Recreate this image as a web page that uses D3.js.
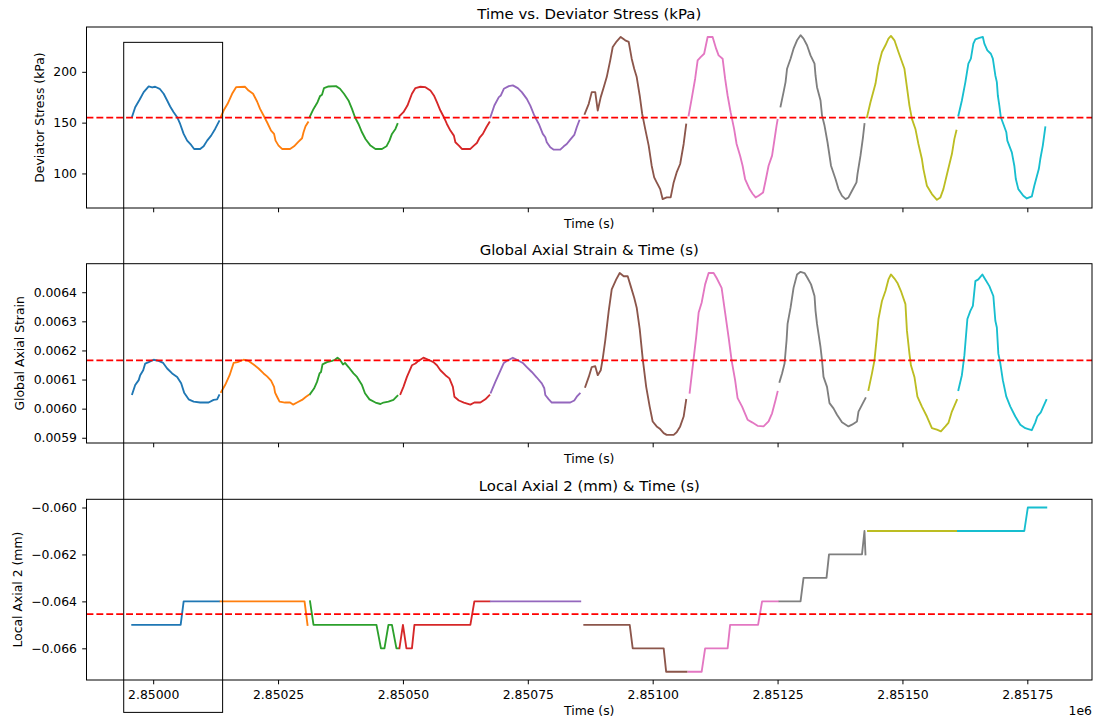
<!DOCTYPE html>
<html>
<head>
<meta charset="utf-8">
<script src="https://cdn.jsdelivr.net/npm/d3@7"></script>
<style>
  html, body { margin: 0; padding: 0; background: #fff; }
  svg { display: block; font-family: "DejaVu Sans", sans-serif; }
</style>
</head>
<body>
<svg id="chart" width="1094" height="722"></svg>
<script>
// Time values are seconds relative to T0.
const T0 = 2850000;

const cycleColors = ["#1f77b4", "#ff7f0e", "#2ca02c", "#d62728", "#9467bd",
                     "#8c564b", "#e377c2", "#7f7f7f", "#bcbd22", "#17becf"];

// Deviator stress (kPa), one array per loading cycle: [time, stress]
const stressCycles = [
  [[-42,156.3],[-36,165.2],[-27,172.8],[-19,180.0],[-9,185.6],[-2,184.6],[4,185.3],[13,183.3],[21,178.4],[28,171.8],[34,165.9],[41,160.3],[48,155.3],[54,148.7],[61,138.9],[68,132.3],[76,128.0],[82,124.1],[94,124.1],[101,126.7],[108,132.3],[116,137.2],[124,143.8],[132,151.4]],
  [[136,156.3],[141,161.9],[149,168.5],[158,178.4],[166,184.9],[184,185.3],[191,181.6],[200,178.4],[208,170.8],[214,163.5],[221,157.0],[228,150.4],[236,142.2],[242,138.9],[245,132.3],[251,127.4],[258,124.1],[274,124.1],[282,126.7],[291,131.3],[298,134.6],[301,140.5],[305,146.4],[310,150.4]],
  [[314,156.3],[321,163.5],[329,170.1],[334,176.1],[338,177.4],[342,184.0],[351,185.6],[366,185.9],[374,183.3],[382,178.4],[391,171.8],[398,163.5],[404,155.3],[411,148.7],[418,140.5],[425,133.9],[435,127.4],[445,124.1],[458,124.1],[467,126.7],[473,132.3],[478,138.9],[485,143.8],[489,148.7]],
  [[493,156.3],[501,160.3],[509,166.8],[518,178.4],[525,184.0],[535,185.3],[545,184.9],[555,181.6],[562,176.7],[568,170.1],[575,161.9],[582,155.3],[588,148.7],[595,142.2],[602,137.2],[605,130.7],[612,127.4],[618,124.1],[635,124.1],[642,127.4],[648,130.0],[654,135.6],[660,138.9],[667,145.5],[673,150.4]],
  [[675,155.3],[683,166.8],[692,175.1],[696,176.7],[702,183.3],[712,185.9],[720,186.6],[730,183.9],[738,180.0],[748,173.4],[755,166.8],[763,157.0],[772,148.7],[780,138.9],[785,135.6],[788,130.7],[795,125.7],[802,123.4],[815,123.4],[822,126.7],[828,129.0],[835,133.3],[843,137.9],[848,145.5],[853,152.0]],
  [[864,158.6],[872,168.5],[878,180.0],[885,180.0],[890,161.9],[896,175.1],[902,184.9],[908,194.8],[915,211.3],[920,224.4],[928,230.0],[936,234.3],[945,231.0],[952,229.4],[958,212.9],[963,203.0],[968,194.8],[974,176.7],[979,158.6],[985,143.8],[992,127.4],[998,107.6],[1003,96.1],[1008,91.2],[1015,84.6],[1020,74.7],[1028,76.4],[1036,76.4],[1042,91.2],[1048,101.0],[1055,109.3],[1062,129.0],[1067,148.1]],
  [[1072,157.0],[1078,173.4],[1085,193.2],[1090,211.3],[1096,214.5],[1103,217.8],[1110,234.3],[1120,234.3],[1127,222.8],[1132,216.2],[1140,212.9],[1145,193.2],[1150,176.7],[1156,160.3],[1163,143.8],[1168,129.0],[1175,117.5],[1180,107.6],[1185,94.5],[1194,84.6],[1200,80.0],[1206,76.4],[1212,78.0],[1221,81.3],[1226,92.8],[1232,107.6],[1239,117.5],[1244,133.9],[1248,147.1],[1250,152.7]],
  [[1256,165.9],[1262,180.0],[1266,189.9],[1269,203.0],[1276,212.9],[1282,222.8],[1289,231.0],[1296,236.0],[1302,232.6],[1309,226.1],[1316,216.2],[1324,208.0],[1326,196.4],[1329,184.9],[1336,171.8],[1339,157.0],[1344,147.1],[1350,130.7],[1357,107.6],[1366,94.5],[1372,84.6],[1379,78.0],[1386,74.7],[1392,76.4],[1399,83.0],[1408,91.2],[1410,99.4],[1416,117.5],[1421,135.6],[1424,148.7]],
  [[1429,155.3],[1436,170.1],[1446,188.2],[1452,206.3],[1459,219.5],[1466,226.1],[1472,232.6],[1477,235.3],[1484,231.0],[1492,219.5],[1504,203.0],[1509,184.9],[1514,166.8],[1519,153.7],[1526,143.8],[1532,129.0],[1539,114.2],[1542,104.3],[1549,87.9],[1559,79.7],[1569,74.1],[1576,76.4],[1582,84.6],[1590,101.0],[1599,119.1],[1604,134.0],[1608,142.2]],
  [[1612,157.0],[1619,171.8],[1626,189.9],[1632,208.0],[1637,212.9],[1642,227.7],[1646,232.0],[1654,233.3],[1661,234.3],[1664,227.7],[1670,221.1],[1677,217.8],[1681,212.9],[1686,196.4],[1689,189.9],[1691,176.7],[1694,166.8],[1697,155.3],[1702,148.7],[1708,140.5],[1710,132.3],[1719,120.8],[1724,107.6],[1727,94.5],[1732,84.6],[1742,78.0],[1749,75.4],[1759,77.4],[1764,87.9],[1773,104.3],[1776,114.2],[1781,127.4],[1786,145.5]]
];

// Global axial strain, one array per cycle: [time, strain]
const strainCycles = [
  [[-42,.006050],[-36,.006081],[-29,.006098],[-26,.006115],[-20,.006132],[-16,.006155],[-9,.006160],[1,.006168],[11,.006164],[20,.006157],[28,.006138],[38,.006121],[48,.006109],[56,.006087],[62,.006055],[71,.006032],[81,.006024],[94,.006021],[111,.006021],[121,.006030],[128,.006032],[132,.006046]],
  [[136,.006057],[144,.006081],[153,.006115],[161,.006157],[169,.006160],[181,.006168],[191,.006164],[201,.006152],[211,.006138],[221,.006121],[228,.006111],[236,.006096],[242,.006075],[244,.006055],[248,.006041],[253,.006024],[264,.006021],[274,.006021],[280,.006014],[288,.006021],[298,.006030],[306,.006041],[311,.006047]],
  [[314,.006050],[322,.006069],[328,.006092],[333,.006121],[336,.006126],[339,.006152],[348,.006160],[358,.006164],[364,.006168],[369,.006175],[374,.006168],[380,.006152],[384,.006157],[391,.006143],[401,.006121],[408,.006109],[418,.006081],[424,.006053],[433,.006032],[445,.006021],[455,.006016],[461,.006021],[471,.006024],[481,.006030],[489,.006044]],
  [[495,.006050],[501,.006075],[508,.006109],[518,.006149],[525,.006155],[531,.006164],[541,.006175],[551,.006168],[561,.006160],[568,.006149],[575,.006132],[585,.006115],[593,.006104],[600,.006075],[603,.006041],[612,.006028],[622,.006021],[635,.006014],[643,.006021],[655,.006021],[665,.006032],[673,.006046]],
  [[676,.006055],[685,.006092],[694,.006126],[702,.006157],[710,.006166],[720,.006175],[728,.006168],[740,.006157],[748,.006143],[758,.006126],[768,.006107],[778,.006087],[783,.006070],[785,.006047],[792,.006032],[798,.006021],[812,.006021],[835,.006021],[843,.006028],[848,.006041],[854,.006052]],
  [[865,.006075],[872,.006109],[878,.006143],[885,.006146],[890,.006115],[896,.006132],[900,.006172],[905,.006234],[912,.006336],[918,.006410],[927,.006444],[934,.006466],[942,.006455],[950,.006455],[956,.006421],[963,.006381],[968,.006347],[974,.006274],[980,.006172],[987,.006075],[994,.006007],[1000,.005956],[1008,.005939],[1015,.005930],[1022,.005916],[1028,.005910],[1042,.005910],[1048,.005919],[1055,.005939],[1062,.005973],[1067,.006030]],
  [[1074,.006055],[1080,.006143],[1087,.006245],[1092,.006330],[1098,.006364],[1105,.006427],[1112,.006466],[1122,.006466],[1128,.006449],[1138,.006415],[1145,.006330],[1152,.006245],[1158,.006166],[1165,.006098],[1170,.006036],[1179,.006007],[1190,.005962],[1199,.005953],[1210,.005941],[1222,.005939],[1232,.005956],[1239,.005984],[1246,.006030],[1250,.006058]],
  [[1254,.006092],[1259,.006121],[1264,.006155],[1268,.006234],[1270,.006291],[1276,.006347],[1282,.006415],[1289,.006461],[1296,.006470],[1304,.006466],[1310,.006449],[1317,.006427],[1324,.006387],[1326,.006336],[1329,.006291],[1332,.006257],[1336,.006211],[1339,.006166],[1342,.006109],[1349,.006075],[1354,.006019],[1362,.006001],[1369,.005979],[1379,.005953],[1392,.005939],[1399,.005945],[1409,.005956],[1412,.005990],[1419,.006013],[1426,.006036]],
  [[1432,.006064],[1439,.006121],[1444,.006166],[1448,.006234],[1452,.006308],[1459,.006370],[1466,.006404],[1472,.006444],[1477,.006461],[1484,.006447],[1490,.006432],[1497,.006404],[1506,.006359],[1509,.006268],[1514,.006189],[1517,.006149],[1524,.006109],[1530,.006041],[1539,.006007],[1549,.005973],[1559,.005933],[1569,.005928],[1577,.005922],[1586,.005939],[1592,.005951],[1599,.005990],[1609,.006030]],
  [[1612,.006064],[1619,.006115],[1624,.006183],[1630,.006308],[1636,.006336],[1641,.006353],[1646,.006438],[1652,.006444],[1660,.006461],[1666,.006444],[1674,.006421],[1682,.006387],[1686,.006302],[1689,.006279],[1692,.006189],[1696,.006155],[1701,.006098],[1708,.006041],[1716,.006007],[1726,.005973],[1736,.005945],[1746,.005933],[1752,.005930],[1759,.005926],[1766,.005953],[1770,.005973],[1777,.005987],[1782,.006007],[1788,.006030]]
];

// Local axial 2 (mm), one array per cycle: [time, displacement]
const localAxialCycles = [
  [[-42,-0.065],[55,-0.065],[61,-0.064],[132,-0.064]],
  [[135,-0.064],[303,-0.064],[309,-0.065]],
  [[314,-0.064],[321,-0.065],[447,-0.065],[456,-0.066],[463,-0.066],[471,-0.065],[478,-0.065],[487,-0.066],[491,-0.066]],
  [[493,-0.066],[500,-0.065],[507,-0.066],[518,-0.066],[523,-0.065],[635,-0.065],[643,-0.064],[673,-0.064]],
  [[676,-0.064],[855,-0.064]],
  [[863,-0.065],[954,-0.065],[960,-0.066],[1022,-0.066],[1027,-0.067],[1068,-0.067]],
  [[1072,-0.067],[1098,-0.067],[1105,-0.066],[1150,-0.066],[1155,-0.065],[1211,-0.065],[1219,-0.064],[1251,-0.064]],
  [[1254,-0.064],[1296,-0.064],[1302,-0.063],[1348,-0.063],[1353,-0.062],[1419,-0.062],[1424,-0.061],[1426,-0.062]],
  [[1431,-0.061],[1609,-0.061]],
  [[1611,-0.061],[1744,-0.061],[1751,-0.060],[1788,-0.060]]
];

// Overall means drawn as reference lines
const meanStress = 154.9;
const meanStrain = 0.006166;
const meanLocalAxial = -0.06454;

// Tick values
const timeTicks = [2850000, 2850250, 2850500, 2850750, 2851000, 2851250, 2851500, 2851750];
const stressTicks = [100, 150, 200];
const strainTicks = [0.0059, 0.0060, 0.0061, 0.0062, 0.0063, 0.0064];
const localAxialTicks = [-0.066, -0.064, -0.062, -0.060];

// Box around the first cycle: time span, upper edge (stress), lower edge (local axial)
const firstCycleBox = { t0: -59, t1: 139, stressTop: 229, localBottom: -0.06873 };

// ---------------------------------------------------------------- layout
const svg = d3.select("#chart");
const plotLeft = 86.5, plotRight = 1092;
const tickFont = 12.4, titleFont = 14.9;

const allTimes = [stressCycles, strainCycles, localAxialCycles]
  .flatMap(c => c.flat()).map(d => T0 + d[0]);
const [tMin, tMax] = d3.extent(allTimes);
const tPad = (tMax - tMin) * 0.05;
const x = d3.scaleLinear().domain([tMin - tPad, tMax + tPad]).range([plotLeft, plotRight]);

function paddedDomain(cycles) {
  const [lo, hi] = d3.extent(cycles.flat(), d => d[1]);
  const p = (hi - lo) * 0.05;
  return [lo - p, hi + p];
}

const panels = [
  { top: 27, bottom: 208, cycles: stressCycles, mean: meanStress, ticks: stressTicks,
    fmt: d3.format("d"), title: "Time vs. Deviator Stress (kPa)",
    ylabel: "Deviator Stress (kPa)", ylabelX: 44, xLabels: false },
  { top: 263.7, bottom: 443, cycles: strainCycles, mean: meanStrain, ticks: strainTicks,
    fmt: d3.format(".4f"), title: "Global Axial Strain & Time (s)",
    ylabel: "Global Axial Strain", ylabelX: 24.3, xLabels: false },
  { top: 499.3, bottom: 680, cycles: localAxialCycles, mean: meanLocalAxial, ticks: localAxialTicks,
    fmt: d3.format(".3f"), title: "Local Axial 2 (mm) & Time (s)",
    ylabel: "Local Axial 2 (mm)", ylabelX: 21.7, xLabels: true }
];

const line = (y) => d3.line().x(d => x(T0 + d[0])).y(d => y(d[1]));

panels.forEach((p, i) => {
  const y = d3.scaleLinear().domain(paddedDomain(p.cycles)).range([p.bottom, p.top]);
  p.y = y;
  const g = svg.append("g");

  // white axes background
  g.append("rect")
    .attr("x", plotLeft).attr("y", p.top)
    .attr("width", plotRight - plotLeft).attr("height", p.bottom - p.top)
    .attr("fill", "#fff");

  const clipId = "clip" + i;
  g.append("clipPath").attr("id", clipId).append("rect")
    .attr("x", plotLeft).attr("y", p.top)
    .attr("width", plotRight - plotLeft).attr("height", p.bottom - p.top);

  const plot = g.append("g").attr("clip-path", `url(#${clipId})`);

  // cycle traces
  plot.selectAll("path.cycle")
    .data(p.cycles)
    .join("path")
    .attr("class", "cycle")
    .attr("d", line(y))
    .attr("fill", "none")
    .attr("stroke", (d, k) => cycleColors[k % cycleColors.length])
    .attr("stroke-width", 1.85)
    .attr("stroke-linejoin", "round")
    .attr("stroke-linecap", "square");

  // mean reference line
  plot.append("line")
    .attr("x1", x.range()[0]).attr("x2", x.range()[1])
    .attr("y1", y(p.mean)).attr("y2", y(p.mean))
    .attr("stroke", "#ff0000")
    .attr("stroke-width", 1.85)
    .attr("stroke-dasharray", "6.9,3");

  // y axis
  const yAxis = g.append("g")
    .attr("transform", `translate(${plotLeft},0)`)
    .call(d3.axisLeft(y).tickValues(p.ticks).tickFormat(p.fmt).tickSize(4.3).tickPadding(5.2));
  yAxis.select(".domain").remove();

  // x axis
  const xAxis = g.append("g")
    .attr("transform", `translate(0,${p.bottom})`)
    .call(d3.axisBottom(x).tickValues(timeTicks).tickSize(4.3).tickPadding(5.4)
      .tickFormat(p.xLabels ? (d => (d / 1e6).toFixed(5)) : ""));
  xAxis.select(".domain").remove();

  [yAxis, xAxis].forEach(a => {
    a.selectAll(".tick line").attr("stroke", "#000").attr("stroke-width", 1);
    a.selectAll(".tick text")
      .attr("fill", "#000")
      .style("font-size", tickFont + "px")
      .style("font-family", '"DejaVu Sans", sans-serif');
  });

  // frame
  g.append("rect")
    .attr("x", plotLeft).attr("y", p.top)
    .attr("width", plotRight - plotLeft).attr("height", p.bottom - p.top)
    .attr("fill", "none").attr("stroke", "#000").attr("stroke-width", 1);

  // title
  g.append("text")
    .attr("x", (plotLeft + plotRight) / 2).attr("y", p.top - 8.3)
    .attr("text-anchor", "middle")
    .style("font-size", titleFont + "px")
    .attr("fill", "#000")
    .text(p.title);

  // x label
  g.append("text")
    .attr("x", (plotLeft + plotRight) / 2)
    .attr("y", p.xLabels ? 714.5 : p.bottom + 19.5)
    .attr("text-anchor", "middle")
    .style("font-size", tickFont + "px")
    .attr("fill", "#000")
    .text("Time (s)");

  // y label
  g.append("text")
    .attr("transform", `translate(${p.ylabelX},${(p.top + p.bottom) / 2}) rotate(-90)`)
    .attr("text-anchor", "middle")
    .style("font-size", tickFont + "px")
    .attr("fill", "#000")
    .text(p.ylabel);

  if (p.xLabels) {
    g.append("text")
      .attr("x", plotRight).attr("y", 715)
      .attr("text-anchor", "end")
      .style("font-size", tickFont + "px")
      .attr("fill", "#000")
      .text("1e6");
  }
});

// outline spanning all three panels around the first cycle
const boxLeft = x(T0 + firstCycleBox.t0);
const boxRight = x(T0 + firstCycleBox.t1);
const boxTop = panels[0].y(firstCycleBox.stressTop);
const boxBottom = panels[2].y(firstCycleBox.localBottom);
svg.append("rect")
  .attr("x", boxLeft).attr("y", boxTop)
  .attr("width", boxRight - boxLeft).attr("height", boxBottom - boxTop)
  .attr("fill", "none").attr("stroke", "#000").attr("stroke-width", 1);
</script>
</body>
</html>
